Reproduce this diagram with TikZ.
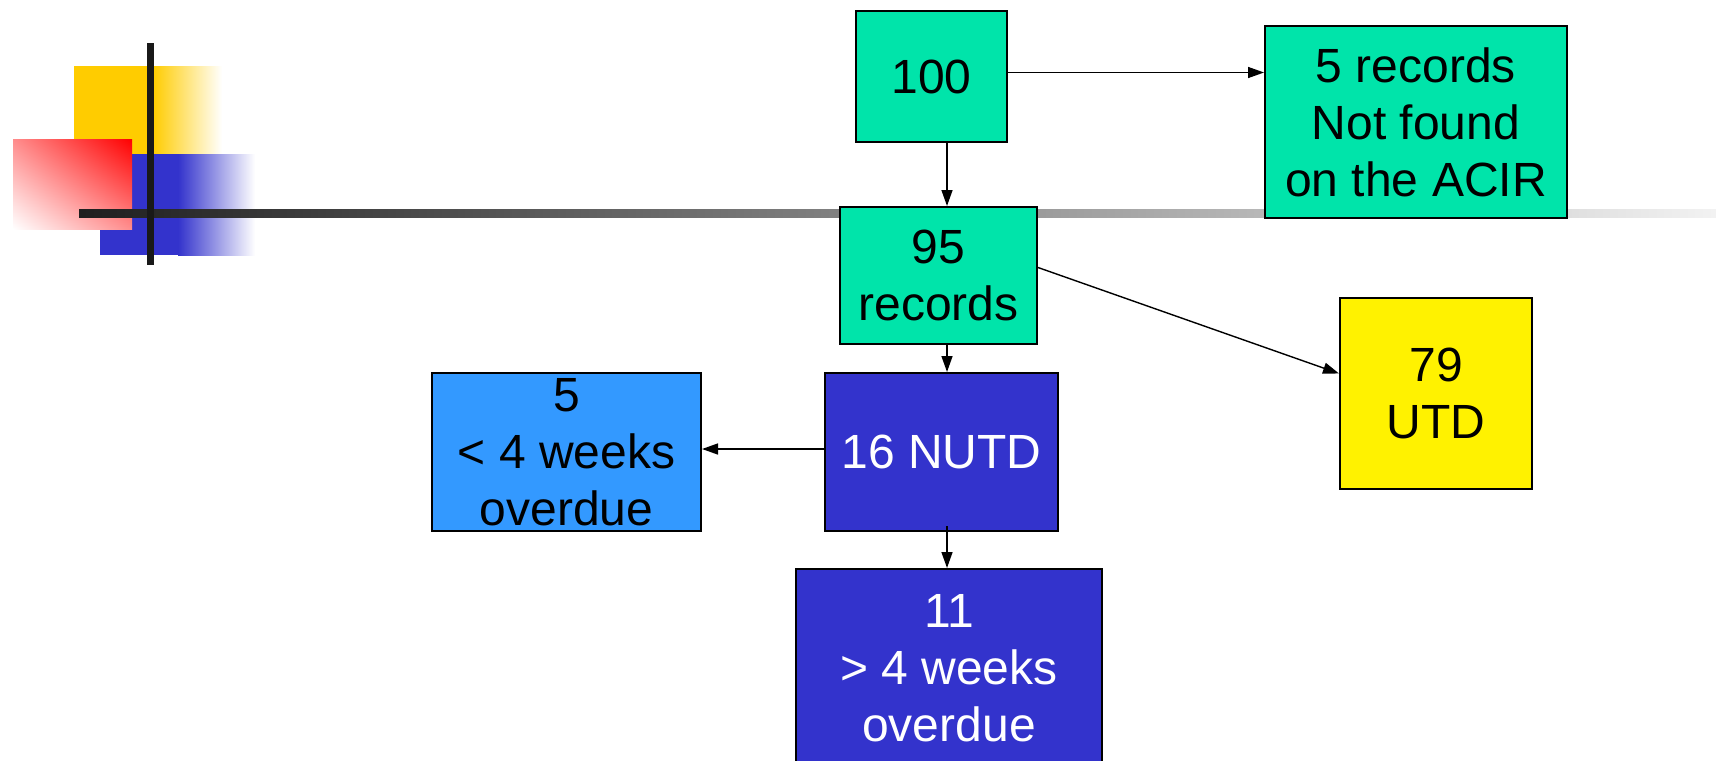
\documentclass[tikz,border=0pt]{standalone}
\usepackage{fontspec}
\setmainfont{Liberation Sans}
\usetikzlibrary{arrows.meta, shadings}

\definecolor{boxgreen}{RGB}{0,228,170}
\definecolor{boxblue}{RGB}{51,51,204}
\definecolor{skyblue}{RGB}{51,153,255}
\definecolor{logoyellow}{RGB}{255,204,0}

\begin{document}
\begin{tikzpicture}[x=0.5pt, y=-0.5pt,
    box/.style={draw, rectangle, line width=1pt, inner sep=0pt, align=center,
        font=\fontsize{24}{28.5}\selectfont},
    link/.style={-{Triangle[length=8pt, width=5.5pt]}, line width=0.7pt}]
    \useasboundingbox (0,0) rectangle (1716,760);

    % Slide logo and rule
    \fill[logoyellow] (74,66) rectangle (153,155);
    \shade[left color=logoyellow, right color=white] (153,66) rectangle (222,155);
    \fill[boxblue] (100,154) rectangle (178,255);
    \shade[left color=boxblue, right color=white] (178,154) rectangle (255,255);
    \shade[upper right=red, lower left=white, upper left=red!45, lower right=red!45] (13,139) rectangle (132,229);
    \shade[left color=black!88, right color=black!5] (79,209) rectangle (1716,217);
    \fill[black!90] (147,43) rectangle (154,265);

    % Record status flowchart
    \node[box, fill=boxgreen, minimum width=75.5pt, minimum height=65.5pt] (total) at (931.5,76.5) {100};
    \node[box, fill=boxgreen, minimum width=151pt, minimum height=96pt] (missing) at (1416,122) {5 records\\Not found\\on the ACIR};
    \node[box, fill=boxgreen, minimum width=98.5pt, minimum height=68.5pt] (found) at (938.5,275.5) {95\\records};
    \node[box, fill=yellow, minimum width=96pt, minimum height=95.5pt] (utd) at (1436,393.5) {79\\UTD};
    \node[box, fill=boxblue, text=white, minimum width=116.5pt, minimum height=79pt] (nutd) at (941.5,452) {16 NUTD};
    \node[box, fill=skyblue, minimum width=134.5pt, minimum height=79pt] (recent) at (566.5,452) {5\\< 4 weeks\\overdue};
    \node[box, fill=boxblue, text=white, minimum width=153pt, minimum height=99.5pt] (late) at (949,668.5) {11\\> 4 weeks\\overdue};

    \coordinate (axis) at (947,0);

    \draw[link] ([yshift=2pt]total.east) -- ([yshift=2pt]total.east -| missing.west);
    \draw[link] (total.south -| axis) -- (found.north -| axis);
    \draw[link] ([yshift=4pt]found.east) -- ([yshift=10pt]utd.west);
    \draw[link] (found.south -| axis) -- (nutd.north -| axis);
    \draw[link] ([yshift=1.5pt]nutd.west) -- ([yshift=1.5pt]recent.east);
    \draw[link] ([yshift=3pt]nutd.south -| axis) -- (late.north -| axis);
\end{tikzpicture}
\end{document}
